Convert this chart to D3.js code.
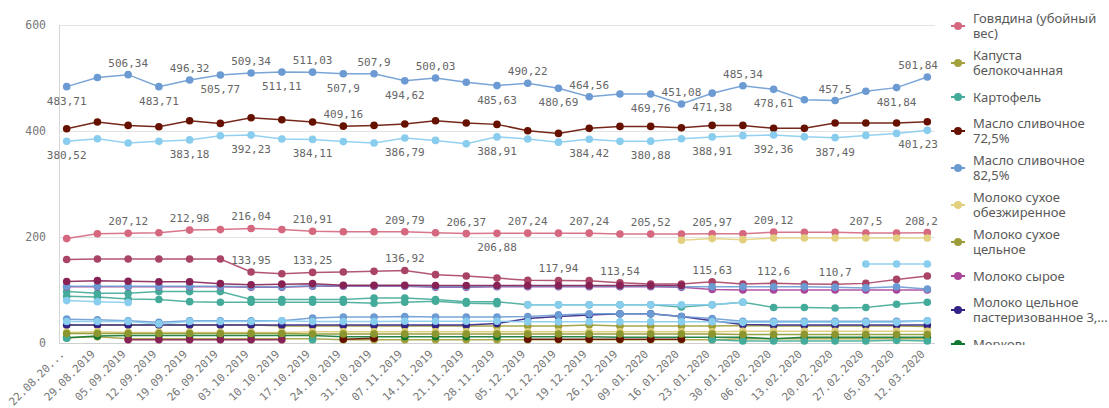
<!DOCTYPE html>
<html><head><meta charset="utf-8">
<script src="https://cdn.jsdelivr.net/npm/d3@7"></script>
<style>
html,body{margin:0;padding:0;background:#fff;}
svg{display:block;}
</style></head><body>
<svg id="chart" width="1109" height="408"></svg>
<script>
const dates = ["22.08.2019","29.08.2019","05.09.2019","12.09.2019","19.09.2019","26.09.2019","03.10.2019","10.10.2019","17.10.2019","24.10.2019","31.10.2019","07.11.2019","14.11.2019","21.11.2019","28.11.2019","05.12.2019","12.12.2019","19.12.2019","26.12.2019","09.01.2020","16.01.2020","23.01.2020","30.01.2020","06.02.2020","13.02.2020","20.02.2020","27.02.2020","05.03.2020","12.03.2020"];
const yTicks = [0, 200, 400, 600];
const _ = null;

const govyadina = [197,206,207.12,208,212.98,214,216.04,214,210.91,210,210,209.79,208,206.37,206.88,207.24,207.3,207.24,205.6,205.52,205.5,205.97,206,209.12,209,209,207.5,207.5,208.2];
const kapusta = [10,12,8,8,8,8,8,8,8,6,6,6,6,6,6,6,6,6,6,6,6,6,8,8,8,8,8,8,8];
const kartofel = [97,94,94,97,97,97,82,82,82,82,85,85,82,78,78,72,72,72,72,72,68,72,77,67,67,66,67,73,77];
const maslo725 = [404.3,417,410.6,408.1,419.4,414.3,425.1,421.3,417,409.16,410.6,413.2,419.4,415.1,412.5,400.6,395.5,405,408.7,408.7,406.2,410.6,410.6,405,405,415.1,415.1,415.1,417.5];
const maslo825 = [483.71,501,506.34,483.71,496.32,505.77,509.34,511.11,511.03,507.9,507.9,494.62,500.03,492,485.63,490.22,480.69,464.56,469.76,469.76,451.08,471.38,485.34,478.61,459,457.5,475,481.84,501.84];
const molokoSuhObezh = [_,_,_,_,_,_,_,_,_,_,_,_,_,_,_,_,_,_,_,_,194,197,195,198,198,198,198,198,198];
const molokoSuhCeln = [34,34,34,34,34,34,34,32,32,32,32,32,32,32,32,32,32,34,32,32,32,32,33,32,32,32,32,32,31];
const molokoSyroe = [106,106,106,106,106,106,105,105,107,107,107,107,105,105,106,106,106,106,106,106,105,101,100,100,100,100,100,100,100];
const molokoPaster = [34,34,34,34,34,34,34,34,34,34,34,34,34,34,37,46,50,53,55,55,50,42,35,34,34,34,34,34,34];
const morkov = [10,13,14,14,14,14,14,14,14,12,12,12,12,12,12,12,12,12,11,11,11,11,11,8,11,11,11,11,11];
// series whose legend entries are cut off below the visible legend area
const ser11 = [380.52,385.5,377.5,380.5,383.18,391,392.23,385,384.11,380,377.5,386.79,382.3,376,388.91,385,379,384.42,380.5,380.88,385.5,388.91,391.2,392.36,389,387.49,391.7,395.5,401.23];
const ser12 = [157.5,158.5,158.5,158.5,158.5,158.5,133.95,130.8,133.25,133.9,135.2,136.92,129,126.3,122.5,118.2,117.94,117.6,113.54,111.2,111.2,115.63,111.2,112.6,111.2,110.7,112.5,120,126.3];
const ser13 = [_,_,_,_,_,_,_,_,_,_,_,_,_,_,_,_,_,_,_,_,_,_,_,_,_,_,149,149,149];
const ser14 = [107,107,107,107,107,107,106,106,108,108,108,108,106,106,107,107,107,107,107,107,106,106,106,106,106,105,104,106,102];
const ser15 = [88,87,83,82,78,77,77,77,77,77,75,77,79,75,74,_,_,_,_,_,_,_,_,_,_,_,_,_,_];
const ser16 = [80,78,76.5,_,_,_,_,_,_,_,_,_,_,_,_,72,72,72,72,72,72,72,77,_,_,_,_,_,_];
const ser17 = [45,44,42,39,42,42,42,42,47,49,49,50,49,49,49,50,53,55,55,55,50,46,41,41,41,41,41,41,42];
const ser18 = [40.5,40.5,40.5,36,40.5,40.5,40.5,42,40.5,40.5,40.5,41,41,41,41,40,40,40,40,40,40,40,39,39,39,39,39,39,42];
const ser19 = [20,21,20,20,20,20,20,20,21,21,21,21,21,21,21,21,21,21,21,21,21,21,22,22,22,22,22,22,22];
const ser20 = [_,_,6,6,6,6,6,6,_,_,_,_,_,_,_,_,_,_,_,_,_,_,_,_,_,_,_,_,_];
const ser21 = [9,_,_,_,_,_,_,_,6,_,_,_,_,_,_,_,_,_,_,_,_,6,4,4,4,4,4,5,4];
const ser22 = [_,_,_,_,_,_,_,_,_,7,9,_,_,_,_,7,7,7,7,7,7,_,_,_,_,_,_,_,_];
const ser23 = [18,18,18,18,18,18,18,18,17,17,17,17,17,17,17,17,17,17,17,17,17,17,16,16,16,16,16,16,16];
const ser24 = [116,117.6,116.5,115.5,115.5,112,110,111,112,109,109,109,108.5,108.5,108.5,108.5,108.5,108.5,108.5,108.5,108.5,_,_,_,_,_,_,_,_];

const names = ["Говядина (убойный вес)","Капуста белокочанная","Картофель","Масло сливочное 72,5%","Масло сливочное 82,5%","Молоко сухое обезжиренное","Молоко сухое цельное","Молоко сырое","Молоко цельное пастеризованное 3,2%","Морковь","Ряд 11","Ряд 12","Ряд 13","Ряд 14","Ряд 15","Ряд 16","Ряд 17","Ряд 18","Ряд 19","Ряд 20","Ряд 21","Ряд 22","Ряд 23","Ряд 24"];
const values = [govyadina,kapusta,kartofel,maslo725,maslo825,molokoSuhObezh,molokoSuhCeln,molokoSyroe,molokoPaster,morkov,ser11,ser12,ser13,ser14,ser15,ser16,ser17,ser18,ser19,ser20,ser21,ser22,ser23,ser24];
const colors = ["#d5677f","#a3a13e","#44aa99","#661100","#6b9bd2","#e3d07f","#9c9d38","#aa4499","#332288","#117733","#88ccee","#aa4466","#88ccee","#6b9bd2","#44aa99","#88ccee","#6b9bd2","#88ccee","#ddcc77","#882255","#44aa99","#661100","#8c962f","#882255"];

// data labels shown: series index -> point indices and side (1 above, -1 below)
const labelIdx = {
  0: [2,4,6,8,11,13,14,15,17,19,21,23,26,28],
  3: [9],
  4: [0,2,3,4,5,6,7,8,9,10,11,12,14,15,16,17,19,20,21,22,23,25,27,28],
  10: [0,4,6,8,11,14,17,19,21,23,25,28],
  11: [6,8,11,16,18,21,23,25]
};
const labelSide = {
  0: [1,1,1,1,1,1,-1,1,1,1,1,1,1,1],
  3: [1],
  4: [-1,1,-1,1,-1,1,-1,1,-1,1,-1,1,-1,1,-1,1,-1,1,-1,1,-1,1,-1,1],
  10: [-1,-1,-1,-1,-1,-1,-1,-1,-1,-1,-1,-1],
  11: [1,1,1,1,1,1,1,1]
};

const series = names.map((n,i)=>({name:n, values:values[i], color:colors[i]}));

const svg = d3.select("#chart");
const L = 59, R = 935, T = 25, B = 343;
const x = d3.scalePoint().domain(dates).range([L, R]).padding(0.25);
const y = d3.scaleLinear().domain([0, 600]).range([B, T]);
const mono = "'DejaVu Sans Mono', monospace";

// grid
svg.append("g").selectAll("line").data(yTicks.filter(t=>t>0)).join("line")
  .attr("x1", L).attr("x2", R).attr("y1", d=>Math.round(y(d))+0.5).attr("y2", d=>Math.round(y(d))+0.5)
  .attr("stroke", "#e3e3e3").attr("stroke-width", 1);
svg.append("line").attr("x1", L+0.5).attr("x2", L+0.5).attr("y1", T).attr("y2", B)
  .attr("stroke", "#d6d6d6");
svg.append("line").attr("x1", L).attr("x2", R).attr("y1", B+0.5).attr("y2", B+0.5)
  .attr("stroke", "#cfcfcf");

// y axis labels
const ya = svg.append("g").attr("transform", `translate(46,0)`)
  .call(d3.axisLeft(y).tickValues(yTicks).tickSize(0).tickPadding(0).tickFormat(d3.format("d")));
ya.select(".domain").remove();
ya.selectAll("text").attr("font-family", mono).attr("font-size", 11.5).attr("fill", "#777");

// x axis labels
const xa = svg.append("g").attr("transform", `translate(0,${B})`)
  .call(d3.axisBottom(x).tickSize(0));
xa.select(".domain").remove();
xa.selectAll("text")
  .attr("font-family", mono).attr("font-size", 11).attr("fill", "#777")
  .attr("text-anchor", "end").attr("x", 0).attr("y", 0).attr("dy", "0.35em")
  .attr("transform", "translate(-5,9) rotate(-45)")
  .each(function(d){
    const len = this.getComputedTextLength();
    const left = x(d) - 5 - len * Math.SQRT1_2;
    if (left < 16) d3.select(this).text(d.slice(0, 8) + "...");
  });

// lines
const line = d3.line().defined(d=>d.v!=null).x(d=>x(d.d)).y(d=>y(d.v));
const gLines = svg.append("g");
series.forEach(s=>{
  const pts = s.values.map((v,i)=>({d:dates[i], v}));
  const g = gLines.append("g");
  g.append("path").datum(pts).attr("d", line).attr("fill","none")
    .attr("stroke", s.color).attr("stroke-width", 1.5).attr("stroke-opacity", 0.9);
  g.selectAll("circle").data(pts.filter(p=>p.v!=null)).join("circle")
    .attr("cx", p=>x(p.d)).attr("cy", p=>y(p.v)).attr("r", 3.8).attr("fill", s.color);
});

// data labels
const gLab = svg.append("g").attr("font-family", mono).attr("font-size", 11).attr("fill", "#666");
Object.keys(labelIdx).forEach(k=>{
  const s = series[+k];
  labelIdx[k].forEach((idx, j)=>{
    const side = labelSide[k][j];
    const v = s.values[idx];
    const t = gLab.append("text").text(String(v).replace(".", ","))
      .attr("text-anchor", "middle")
      .attr("x", x(dates[idx]))
      .attr("y", side > 0 ? y(v) - 8 : y(v) + 18);
    const w = t.node().getComputedTextLength();
    if (x(dates[idx]) + w/2 > 938) t.attr("x", 938 - w/2);
  });
});

// legend (clipped: only the first entries fit in the visible area)
const defs = svg.append("defs");
const clipBottom = 345;
defs.append("clipPath").attr("id", "legclip").append("rect")
  .attr("x", 940).attr("y", 0).attr("width", 169).attr("height", clipBottom);
const leg = svg.append("g").attr("clip-path", "url(#legclip)");
const legFont = "'Noto Sans', sans-serif", legSize = 13, maxW = 138;
const meas = svg.append("text").attr("font-family", legFont).attr("font-size", legSize).attr("visibility","hidden");
function tw(s){ meas.text(s); return meas.node().getComputedTextLength(); }
function wrap(name){
  const words = name.split(" ");
  const lines = [];
  let cur = "";
  words.forEach(w=>{
    const cand = cur ? cur + " " + w : w;
    if (tw(cand) <= maxW || !cur) cur = cand; else { lines.push(cur); cur = w; }
  });
  lines.push(cur);
  if (lines.length > 2) { lines[1] = lines.slice(1).join(" "); lines.length = 2; }
  let l2 = lines[lines.length-1];
  if (tw(l2) > maxW) {
    while (l2.length > 1 && tw(l2 + "...") > maxW) l2 = l2.slice(0, -1);
    lines[lines.length-1] = l2 + "...";
  }
  return lines;
}
let cy = 26, prevH = 0;
for (let i = 0; i < series.length; i++) {
  const s = series[i];
  const lines = wrap(s.name);
  const h = lines.length === 2 ? 37 : 31;
  if (i > 0) cy += prevH/2 + h/2;
  prevH = h;
  if (cy - h/2 > clipBottom) break;
  const g = leg.append("g");
  g.append("line").attr("x1", 951).attr("x2", 965).attr("y1", cy).attr("y2", cy)
    .attr("stroke", s.color).attr("stroke-width", 2);
  g.append("circle").attr("cx", 958).attr("cy", cy).attr("r", 4).attr("fill", s.color);
  const t = g.append("text").attr("font-family", legFont).attr("font-size", legSize).attr("fill", "#595959");
  lines.forEach((ln, k)=>{
    t.append("tspan").attr("x", 973).attr("y", cy - (lines.length-1)*7.5 + k*15 + 4.5).text(ln);
  });
}
meas.remove();
</script>
</body></html>
